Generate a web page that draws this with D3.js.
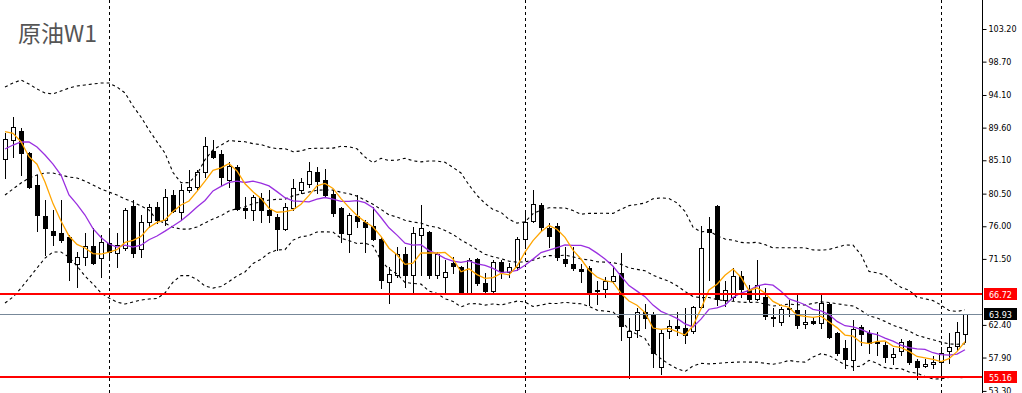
<!DOCTYPE html>
<html>
<head>
<meta charset="utf-8">
<script src="https://cdn.jsdelivr.net/npm/d3@7"></script>
<style>
  body { margin: 0; background: #fff; }
  svg { display: block; }
</style>
</head>
<body>
<div id="chart"></div>
<script>
// weekly crude oil bars
var opens = [85.27,87.89,89.14,86.10,81.69,77.41,75.35,75.07,74.52,70.79,71.76,73.28,71.62,73.69,72.31,73.00,78.79,72.86,76.59,78.65,
  76.86,80.31,77.97,81.00,81.41,83.48,86.38,85.96,82.38,84.17,78.52,78.24,79.90,78.24,77.28,75.62,78.52,81.00,81.83,83.48,
  82.38,80.45,78.52,74.93,77.41,76.59,76.03,74.24,68.31,69.28,72.17,69.28,74.79,75.21,69.28,69.00,70.93,70.38,66.80,71.48,
  68.17,67.07,71.07,69.69,70.38,74.24,76.72,78.93,75.76,76.03,71.48,70.79,70.10,70.24,67.21,67.35,68.45,69.55,60.73,61.69,
  64.18,63.76,56.59,61.56,62.24,61.97,61.56,64.86,75.62,78.79,65.83,66.24,69.14,67.21,65.97,66.24,63.49,62.80,64.59,64.45,
  62.52,62.93,62.66,65.28,61.28,59.21,57.56,62.11,61.28,59.90,59.62,57.97,58.80,60.18,57.42,56.73,57.00,57.28,58.80,59.49,
  61.14];
var highs = [88.86,91.07,89.55,86.24,83.07,79.62,78.24,79.62,74.79,72.45,75.07,75.76,74.79,75.48,75.07,78.52,79.62,77.55,79.07,79.34,
  81.14,81.00,81.83,83.76,83.76,88.31,87.89,86.51,84.86,84.45,80.03,80.31,80.59,81.00,77.69,79.21,82.52,82.65,84.86,84.17,
  83.89,81.00,78.65,77.83,80.31,76.86,78.65,74.52,70.38,73.14,73.14,75.90,78.93,75.35,72.45,71.35,71.76,70.52,71.62,71.62,
  69.55,71.35,71.35,70.93,74.52,77.97,81.00,79.21,76.45,76.45,73.14,73.14,70.79,70.52,68.45,69.00,70.52,72.31,63.35,64.73,
  65.28,64.18,61.69,63.07,64.18,64.73,65.00,76.03,77.28,78.93,68.45,70.24,69.83,67.90,71.35,67.48,64.73,64.86,65.83,66.52,
  64.45,63.49,66.52,65.42,61.42,60.31,63.07,62.38,61.69,61.42,60.04,59.21,60.45,60.31,57.69,57.69,58.11,59.35,61.28,62.80,
  63.95];
var lows = [82.65,85.55,83.07,81.27,75.35,72.04,73.41,73.83,68.59,67.62,70.66,70.79,69.00,71.62,70.38,72.72,71.76,71.76,75.90,76.45,
  76.17,77.97,76.86,80.72,81.00,82.79,85.41,81.69,81.41,78.24,77.14,76.86,76.59,76.59,72.72,75.48,78.24,80.59,81.41,80.59,
  80.03,77.41,73.83,72.45,75.90,72.45,74.10,67.48,65.42,69.00,67.62,66.80,69.28,68.86,68.86,66.93,69.55,66.80,66.66,67.90,
  66.93,66.93,68.86,69.00,69.97,73.41,76.59,75.48,73.14,71.35,70.52,69.97,68.31,65.14,65.28,66.24,68.17,60.31,55.10,60.73,
  61.97,56.59,55.63,60.59,61.00,59.90,61.28,64.73,68.59,65.14,65.00,65.83,66.24,65.69,65.83,63.21,62.24,62.38,63.62,61.97,
  61.97,62.52,61.97,60.59,58.25,56.45,56.18,59.62,58.52,58.25,57.28,57.00,58.25,57.00,54.94,56.59,56.45,55.21,57.14,58.93,
  60.04];
var closes = [88.03,89.69,86.10,81.41,77.55,75.76,74.79,74.10,71.07,71.76,73.28,70.93,73.83,72.45,73.41,78.24,72.31,76.59,78.65,76.86,
  80.03,78.10,81.00,81.41,83.48,87.07,85.55,82.79,84.31,78.38,78.24,80.03,78.24,77.55,75.62,78.65,81.27,82.10,83.62,82.24,
  80.31,77.83,75.07,77.55,76.72,75.90,74.24,68.59,69.42,72.17,69.28,75.07,75.76,69.28,72.17,69.69,70.52,66.93,71.35,68.17,
  67.07,71.07,69.83,70.38,74.24,76.59,79.07,75.90,74.66,71.76,70.93,70.24,69.83,66.93,67.07,68.45,69.14,62.24,61.56,64.18,
  63.35,58.52,61.28,62.24,61.97,61.00,64.86,73.00,75.21,65.97,67.21,69.14,67.35,65.97,67.90,63.62,63.35,64.59,64.73,62.38,
  62.80,62.66,65.42,60.73,58.52,57.69,61.83,61.14,59.90,60.04,57.97,58.38,60.04,57.28,56.59,57.00,57.28,58.52,59.35,61.42,
  63.93];

// indicator values at the left edge, before a full window exists
var fastHead = [89.04,88.82,87.66,85.59];
var slowHead = [86.65,87.20,87.62,87.62,86.93,85.83,84.58,83.07,80.31];
var upperHead = [95.20,95.75,96.17,95.62,94.93,94.38,94.24,94.65,95.06,95.34,95.48,95.62,95.75,95.75,95.20,94.38,92.58,91.07,89.27];
var midHead = [80.31,81.14,81.96,82.65,83.07,83.34,83.34,83.07,82.79,82.65,82.24,81.69,81.14,80.72,80.31,79.76,79.34,78.79,78.24];
var lowerHead = [65.42,66.24,67.48,68.86,70.24,71.62,72.45,72.45,71.76,70.52,69.14,68.04,66.80,66.11,65.55,65.28,65.55,65.83,65.97];

var separators = [13, 65, 117];
var tickValues = [103.20, 98.70, 94.10, 89.60, 85.10, 80.50, 76.00, 71.50, 62.40, 57.90, 53.30];
var levels = [66.72, 55.16];
var lastPrice = 63.93;

var width = 1022, height = 393;
var axisX = 982;

var svg = d3.select('#chart').append('svg')
  .attr('width', width).attr('height', height);

var x = d3.scaleLinear().domain([0, closes.length - 1]).range([5, 965]);
var y = d3.scaleLinear().domain([53.30, 103.20]).range([390.9, 29]);

function sma(arr, n, i) {
  var s = 0;
  for (var k = i - n + 1; k <= i; k++) s += arr[k];
  return s / n;
}
function sd(arr, n, i) {
  var m = sma(arr, n, i), s = 0;
  for (var k = i - n + 1; k <= i; k++) s += (arr[k] - m) * (arr[k] - m);
  return Math.sqrt(s / n);
}

var bars = closes.map(function(c, i) {
  var d = { i: i, o: opens[i], h: highs[i], l: lows[i], c: c };
  d.fast = i >= 4 ? sma(closes, 5, i) : fastHead[i];
  d.slow = i >= 9 ? sma(closes, 10, i) : slowHead[i];
  if (i >= 19) {
    var m = sma(closes, 20, i), s = sd(closes, 20, i);
    d.mid = m; d.up = m + 2 * s; d.lo = m - 2 * s;
  } else {
    d.mid = midHead[i]; d.up = upperHead[i]; d.lo = lowerHead[i];
  }
  return d;
});

// year separators
svg.selectAll('.sep')
  .data(separators)
  .enter().append('line')
  .attr('x1', d => Math.round(x(d)) + 0.5).attr('x2', d => Math.round(x(d)) + 0.5)
  .attr('y1', 0).attr('y2', height)
  .attr('stroke', '#000').attr('stroke-dasharray', '3,3');

// candles
var candle = svg.selectAll('.candle')
  .data(bars)
  .enter().append('g')
  .attr('shape-rendering', 'crispEdges');

candle.append('line')
  .attr('x1', d => Math.round(x(d.i)) + 0.5).attr('x2', d => Math.round(x(d.i)) + 0.5)
  .attr('y1', d => Math.round(y(d.h))).attr('y2', d => Math.round(y(d.l)) + 1)
  .attr('stroke', '#000');

candle.append('rect')
  .attr('x', d => Math.round(x(d.i)) - 2 + 0.5)
  .attr('y', d => Math.round(y(Math.max(d.o, d.c))) + 0.5)
  .attr('width', 4)
  .attr('height', d => Math.max(1, Math.round(y(Math.min(d.o, d.c))) - Math.round(y(Math.max(d.o, d.c)))))
  .attr('fill', d => d.c >= d.o ? '#fff' : '#000')
  .attr('stroke', '#000');

// bollinger bands
['up', 'mid', 'lo'].forEach(function(k) {
  svg.append('path')
    .datum(bars)
    .attr('fill', 'none')
    .attr('stroke', '#000')
    .attr('stroke-width', 1.1)
    .attr('stroke-dasharray', '3,3')
    .attr('d', d3.line().x(d => x(d.i)).y(d => y(d[k])));
});

// moving averages
svg.append('path')
  .datum(bars)
  .attr('fill', 'none').attr('stroke', '#9a2fe0').attr('stroke-width', 1.3)
  .attr('d', d3.line().x(d => x(d.i)).y(d => y(d.slow)));

svg.append('path')
  .datum(bars)
  .attr('fill', 'none').attr('stroke', '#ffa500').attr('stroke-width', 1.3)
  .attr('d', d3.line().x(d => x(d.i)).y(d => y(d.fast)));

// last price line
svg.append('line')
  .attr('x1', 0).attr('x2', axisX)
  .attr('y1', Math.round(y(lastPrice)) + 0.5).attr('y2', Math.round(y(lastPrice)) + 0.5)
  .attr('stroke', '#778899');

// horizontal levels
svg.selectAll('.level')
  .data(levels)
  .enter().append('line')
  .attr('x1', 0).attr('x2', axisX)
  .attr('y1', d => Math.round(y(d))).attr('y2', d => Math.round(y(d)))
  .attr('stroke', '#ff0000').attr('stroke-width', 2);

// price axis
var yAxis = d3.axisRight(y).tickValues(tickValues).tickFormat(d3.format('.2f')).tickSize(4).tickPadding(2);
var yAxisGroup = svg.append('g')
  .attr('transform', 'translate(' + (axisX + 0.5) + ',0)')
  .call(yAxis);
yAxisGroup.select('.domain').attr('d', 'M0,0V' + height).attr('stroke', '#000');
yAxisGroup.selectAll('text').attr('font-family', 'DejaVu Sans').attr('font-size', 8).attr('fill', '#000');
yAxisGroup.selectAll('line').attr('stroke', '#000');

// price tags
var tags = levels.map(v => ({ v: v, bg: '#ff0000' })).concat([{ v: lastPrice, bg: '#000' }]);
var tag = svg.selectAll('.tag')
  .data(tags)
  .enter().append('g')
  .attr('transform', d => 'translate(' + (axisX + 2) + ',' + Math.round(y(d.v)) + ')');
tag.append('rect')
  .attr('x', 0).attr('y', -6).attr('width', 33).attr('height', 12)
  .attr('fill', d => d.bg);
tag.append('text')
  .attr('x', 5).attr('y', 3.5)
  .attr('font-family', 'DejaVu Sans').attr('font-size', 8).attr('fill', '#fff')
  .text(d => d.v.toFixed(2));

// title
svg.append('text')
  .attr('x', 18).attr('y', 42)
  .attr('font-family', 'Noto Sans CJK SC').attr('font-size', 23)
  .attr('fill', '#555')
  .text('原油W1');
</script>
</body>
</html>
